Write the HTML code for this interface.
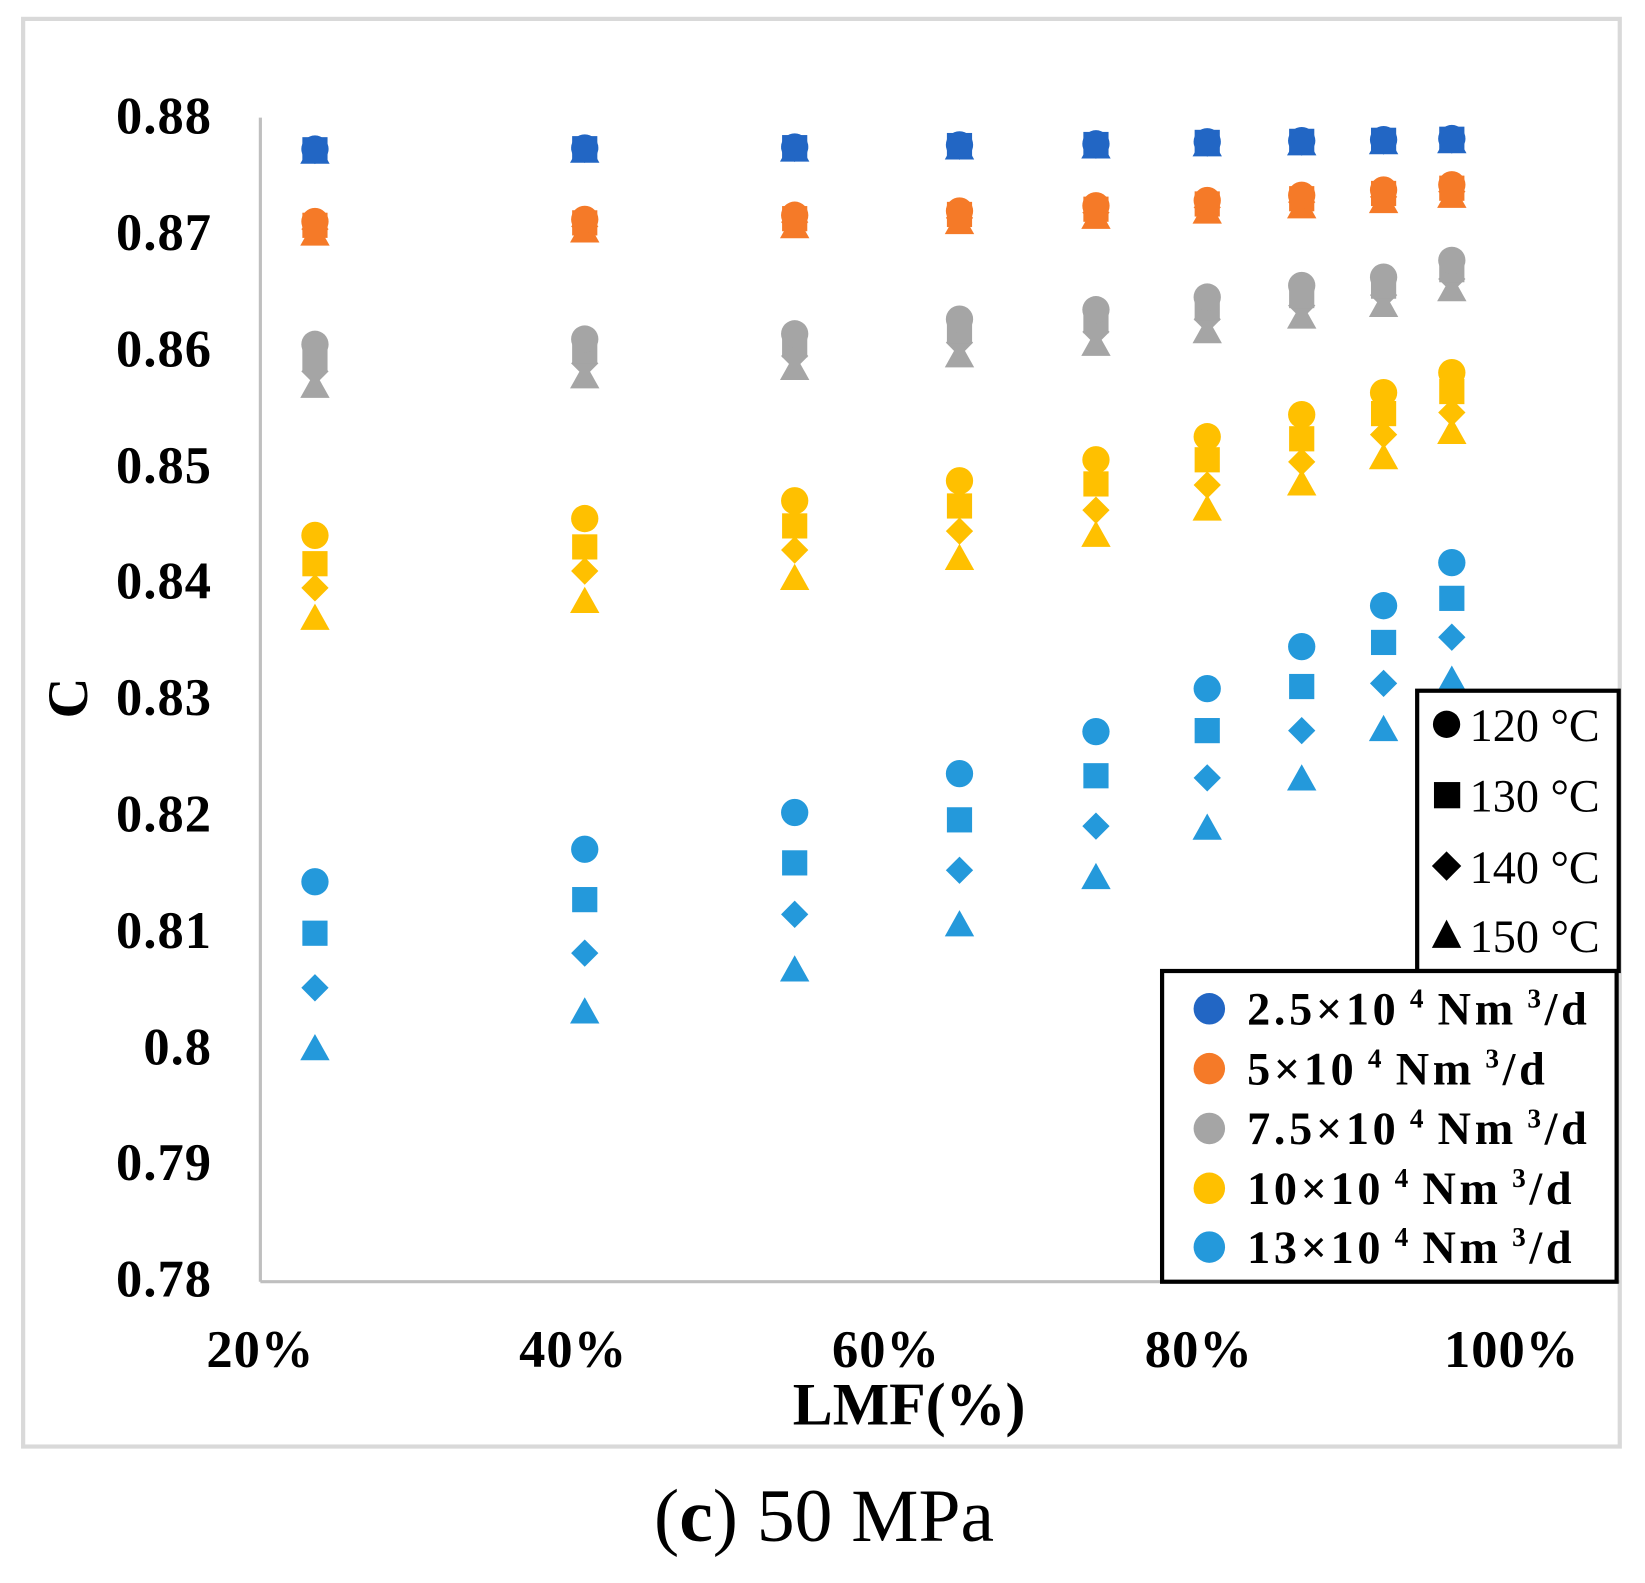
<!DOCTYPE html>
<html><head><meta charset="utf-8"><style>
html,body{margin:0;padding:0;background:#fff;}
svg{display:block;}
</style></head><body>
<svg id="s" width="1645" height="1583" viewBox="0 0 1567 1508" xmlns="http://www.w3.org/2000/svg" font-family="Liberation Serif, serif">
<rect x="22" y="18" width="1521" height="1360" fill="#fff" stroke="#d9d9d9" stroke-width="4"/>
<line x1="248" y1="112" x2="248" y2="1221" stroke="#bfbfbf" stroke-width="3"/>
<line x1="248" y1="1221" x2="1543" y2="1221" stroke="#bfbfbf" stroke-width="3"/>
<g font-weight="bold" font-size="50" text-anchor="end" letter-spacing="1">
<text x="202" y="127">0.88</text><text x="202" y="238">0.87</text><text x="202" y="349">0.86</text>
<text x="202" y="460">0.85</text><text x="202" y="570">0.84</text><text x="202" y="681">0.83</text>
<text x="202" y="792">0.82</text><text x="202" y="903">0.81</text><text x="202" y="1014">0.8</text>
<text x="202" y="1124">0.79</text><text x="202" y="1235">0.78</text>
</g>
<g font-weight="bold" font-size="50" text-anchor="middle" letter-spacing="1">
<text x="248" y="1302">20%</text><text x="546" y="1302">40%</text><text x="844" y="1302">60%</text>
<text x="1142" y="1302">80%</text><text x="1440" y="1302">100%</text>
</g>
<text x="866" y="1357" font-weight="bold" font-size="57" text-anchor="middle">LMF(%)</text>
<text transform="translate(83,665) rotate(-90)" font-weight="bold" font-size="54" text-anchor="middle">C</text>
<text x="785" y="1468" font-size="72" text-anchor="middle">(<tspan font-weight="bold">c</tspan>) 50 MPa</text>
<g id="pts"></g>
<rect x="1350" y="658" width="192" height="267" fill="#fff" stroke="#000" stroke-width="4"/>
<g font-size="44">
<circle cx="1378" cy="690" r="13"/><text x="1400" y="706">120 °C</text>
<rect x="1366" y="745" width="25" height="25"/><text x="1400" y="773">130 °C</text>
<polygon points="1378,811 1392,825 1378,839 1364,825"/><text x="1400" y="841">140 °C</text>
<polygon points="1378,876 1392,903 1364,903"/><text x="1400" y="907">150 °C</text>
</g>
<rect x="1107" y="925" width="433" height="296" fill="#fff" stroke="#000" stroke-width="4"/>
<g font-size="44" font-weight="bold" letter-spacing="3.5">
<circle cx="1152" cy="961" r="15" fill="#2266c4"/><text x="1188" y="976">2.5×10<tspan font-size="26" dy="-16"> 4 </tspan><tspan dy="16"> Nm</tspan><tspan font-size="26" dy="-16"> 3</tspan><tspan dy="16">/d</tspan></text>
<circle cx="1152" cy="1018" r="15" fill="#f57a28"/><text x="1188" y="1033">5×10<tspan font-size="26" dy="-16"> 4 </tspan><tspan dy="16"> Nm</tspan><tspan font-size="26" dy="-16"> 3</tspan><tspan dy="16">/d</tspan></text>
<circle cx="1152" cy="1075" r="15" fill="#a5a5a5"/><text x="1188" y="1090">7.5×10<tspan font-size="26" dy="-16"> 4 </tspan><tspan dy="16"> Nm</tspan><tspan font-size="26" dy="-16"> 3</tspan><tspan dy="16">/d</tspan></text>
<circle cx="1152" cy="1132" r="15" fill="#ffc000"/><text x="1188" y="1147">10×10<tspan font-size="26" dy="-16"> 4 </tspan><tspan dy="16"> Nm</tspan><tspan font-size="26" dy="-16"> 3</tspan><tspan dy="16">/d</tspan></text>
<circle cx="1152" cy="1188" r="15" fill="#2499db"/><text x="1188" y="1203">13×10<tspan font-size="26" dy="-16"> 4 </tspan><tspan dy="16"> Nm</tspan><tspan font-size="26" dy="-16"> 3</tspan><tspan dy="16">/d</tspan></text>
</g>
</svg>
<script>
var X=[300,557,757,914,1044,1150,1240,1318,1383];
function lerp(a,b,t){return a.map(function(v,i){return v+(b[i]-v)*t;});}
function S(col,c,q,d,t){return {col:col,ys:[c,q,d,t]};}
var dbC=[142,141,140,138,137,135,134,133,132],dbT=[144,143,142,140,139,137,136,135,134];
var orC=[211,209,205,201,196,191,186,181,176],orT=[222,219,215,211,206,201,196,191,186];
var grC=[328,323,318,304,295,283,272,264,248],grT=[367,358,350,338,327,315,301,290,275];
var series=[
S('#2266c4',dbC,lerp(dbC,dbT,.33),lerp(dbC,dbT,.66),dbT),
S('#f57a28',orC,lerp(orC,orT,.33),lerp(orC,orT,.66),orT),
S('#a5a5a5',grC,lerp(grC,grT,.33),lerp(grC,grT,.66),grT),
S('#ffc000',[510,494,477,458,438,416,395,374,355],[537,521,501,482,461,438,418,394,373],[560,544,524,506,486,462,440,414,393],[588,572,550,531,509,484,460,435,411]),
S('#2499db',[840,809,774,737,697,656,616,577,536],[889,857,822,781,739,696,654,612,570],[941,908,871,829,787,741,696,651,607],[998,963,923,880,835,788,741,694,647])
];
var h='';
series.forEach(function(s){
 for(var k=3;k>=0;k--){
  s.ys[k].forEach(function(y,i){
   var x=X[i];
   if(k==0)h+='<circle cx="'+x+'" cy="'+y+'" r="13" fill="'+s.col+'"/>';
   if(k==1)h+='<rect x="'+(x-12)+'" y="'+(y-12)+'" width="24" height="24" fill="'+s.col+'"/>';
   if(k==2)h+='<polygon points="'+x+','+(y-13)+' '+(x+13)+','+y+' '+x+','+(y+13)+' '+(x-13)+','+y+'" fill="'+s.col+'"/>';
   if(k==3)h+='<polygon points="'+x+','+(y-13)+' '+(x+14)+','+(y+12)+' '+(x-14)+','+(y+12)+'" fill="'+s.col+'"/>';
  });
 }
});
document.getElementById('pts').innerHTML=h;
</script>
</body></html>
